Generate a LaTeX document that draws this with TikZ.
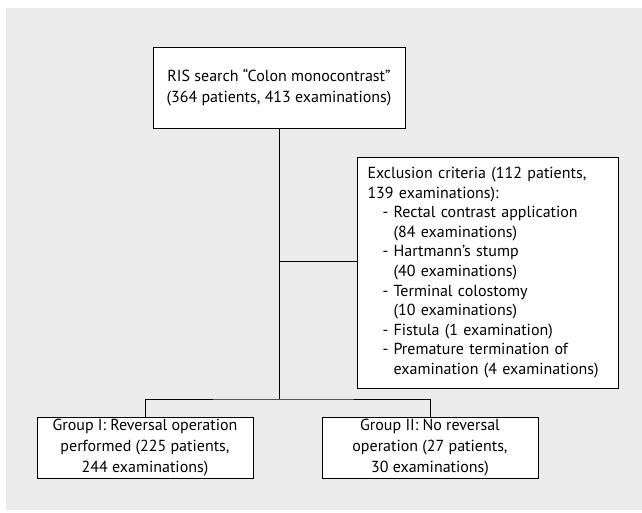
\documentclass[tikz,border=0pt]{standalone}
\usepackage{fontspec}
\setmainfont{PT Sans}
\definecolor{bggray}{HTML}{EAEBEA}
\begin{document}
\begin{tikzpicture}[x=1pt,y=-1pt,
  box/.style={draw=black, line width=0.9pt, fill=white, align=center, inner sep=0pt,
    font=\fontsize{16}{21}\selectfont},
  conn/.style={draw=black, line width=0.9pt}]
\useasboundingbox (0,0) rectangle (642,513);
\fill[bggray] (6,8) rectangle (642,510);
\node[box, minimum width=252pt, minimum height=81pt] (top) at (279,87.5)
  {RIS search “Colon monocontrast”\\(364 patients, 413 examinations)};
\node[box, minimum width=261pt, minimum height=231pt, text width=240pt, align=left,
  font=\fontsize{16}{19.6}\selectfont] (excl) at (487.5,272.5)
  {Exclusion criteria (112 patients,\\
   139 examinations):\\
   \hspace*{15pt}- Rectal contrast application\\
   \hspace*{15pt}\phantom{- }(84 examinations)\\
   \hspace*{15pt}- Hartmann’s stump\\
   \hspace*{15pt}\phantom{- }(40 examinations)\\
   \hspace*{15pt}- Terminal colostomy\\
   \hspace*{15pt}\phantom{- }(10 examinations)\\
   \hspace*{15pt}- Fistula (1 examination)\\
   \hspace*{15pt}- Premature termination of\\
   \hspace*{15pt}\phantom{- }examination (4 examinations)};
\node[box, minimum width=216pt, minimum height=61pt] (g1) at (145,447.5)
  {Group I: Reversal operation\\performed (225 patients,\\244 examinations)};
\node[box, minimum width=216pt, minimum height=61pt] (g2) at (430,447.5)
  {Group II: No reversal\\operation (27 patients,\\30 examinations)};
\coordinate (j1) at (279,261);
\coordinate (j2) at (279,399);
\draw[conn] (top.south) -- (j2);
\draw[conn] (j1) -- (j1 -| excl.west);
\draw[conn] (g1.north) |- (j2) -| (g2.north);
\end{tikzpicture}
\end{document}
